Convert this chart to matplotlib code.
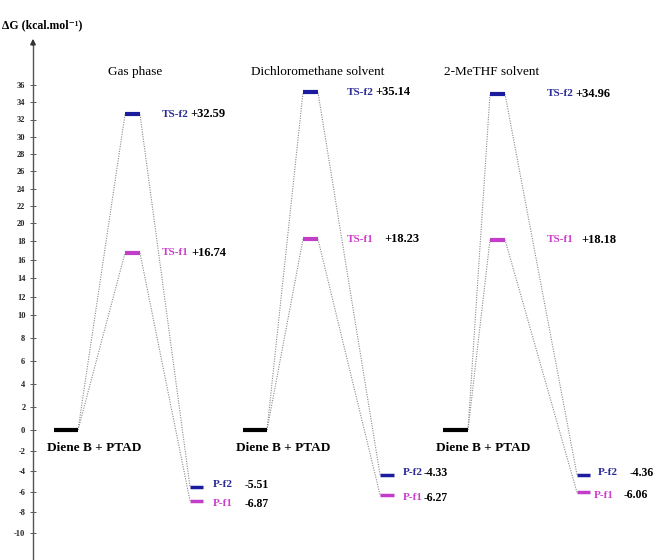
import numpy as np
import matplotlib
matplotlib.use("Agg")
import matplotlib.pyplot as plt

# energies (kcal/mol) as printed on the diagram
phases = ["Gas phase", "Dichloromethane solvent", "2-MeTHF solvent"]
reactant = [0.0, 0.0, 0.0]
ts_f2 = [32.59, 35.14, 34.96]
ts_f1 = [16.74, 18.23, 18.18]
p_f2 = [-5.51, -4.33, -4.36]
p_f1 = [-6.87, -6.27, -6.06]
y_ticks = list(range(-10, 37, 2))

# horizontal layout of each panel, in pixels
react_x = [(54, 78), (243, 267), (443, 468)]
ts_x = [(125, 140), (303, 318), (490, 505)]
prod_x = [(190, 203), (380, 394), (577, 590)]
ts_name_x = [162, 347, 547]
ts2_val_x = [190, 375, 575]
ts1_val_x = [191, 384, 581]
p2_name_x = [213, 403, 598]
p2_val_x = [245, 424, 630]
p1_name_x = [213, 403, 594]
p1_val_x = [245, 424, 624]
title_x = [135, 318, 492]

BLUE = "#1c1c9e"
MAGENTA = "#c23ec8"
BLUE_TXT = "#2b2b95"
MAG_TXT = "#cc3fcc"
FONT = ["Liberation Serif", "DejaVu Serif"]

plt.rcParams["font.family"] = FONT
plt.rcParams["axes.unicode_minus"] = False

# the printed axis is not evenly spaced: follow its tick positions (pixels from top)
knot_val = np.array([-14, -10, 0, 10, 20, 36, 46], dtype=float)
knot_pix = np.array([574, 533, 430, 315, 223, 85, -1], dtype=float)


def forward(v):
    return -np.interp(v, knot_val, knot_pix)


def inverse(u):
    return np.interp(u, -knot_pix, knot_val)


def at_pixel(y):
    return float(inverse(-y))


fig = plt.figure(figsize=(6.57, 5.6), dpi=100)
ax = fig.add_axes([33 / 657, 0, 1 - 33 / 657, 1])
ax.set_yscale("function", functions=(forward, inverse))
ax.set_xlim(33, 657)
ax.set_ylim(at_pixel(560), at_pixel(0))

for side in ["top", "right", "bottom"]:
    ax.spines[side].set_visible(False)
ax.spines["left"].set_bounds(at_pixel(560), at_pixel(44))
ax.spines["left"].set_color("#555555")
ax.spines["left"].set_linewidth(1.0)
ax.annotate("", xy=(33, at_pixel(36)), xytext=(33, at_pixel(48)),
            arrowprops=dict(arrowstyle="-|>", color="#333333", lw=1.0, mutation_scale=8),
            annotation_clip=False)
ax.set_xticks([])
ax.set_yticks(y_ticks)
ax.set_yticklabels([str(t) for t in y_ticks], fontsize=6, fontweight="bold")
ax.tick_params(axis="y", direction="inout", length=5, width=0.6, pad=3, colors="#444444")
for lbl in ax.get_yticklabels():
    lbl.set_color("#222222")

fig.text(2 / 657, 1 - 25 / 560, "ΔG (kcal.mol⁻¹)", fontsize=8.5, fontweight="bold",
         va="center", ha="left")

dots = dict(color="#8a8a8a", ls=(0, (1, 1.2)), lw=0.8)
for i in range(3):
    rx0, rx1 = react_x[i]
    tx0, tx1 = ts_x[i]
    px0, px1 = prod_x[i]
    # connecting dotted paths
    ax.plot([rx1, tx0], [reactant[i], ts_f2[i]], **dots)
    ax.plot([rx1, tx0], [reactant[i], ts_f1[i]], **dots)
    ax.plot([tx1, px0], [ts_f2[i], p_f2[i]], **dots)
    ax.plot([tx1, px0], [ts_f1[i], p_f1[i]], **dots)
    # energy levels
    ax.plot([rx0, rx1], [reactant[i]] * 2, color="black", lw=3, solid_capstyle="butt")
    ax.plot([tx0, tx1], [ts_f2[i]] * 2, color=BLUE, lw=3, solid_capstyle="butt")
    ax.plot([tx0, tx1], [ts_f1[i]] * 2, color=MAGENTA, lw=3, solid_capstyle="butt")
    ax.plot([px0, px1], [p_f2[i]] * 2, color=BLUE, lw=2.5, solid_capstyle="butt")
    ax.plot([px0, px1], [p_f1[i]] * 2, color=MAGENTA, lw=2.5, solid_capstyle="butt")

    # labels
    ax.text(ts_name_x[i], ts_f2[i], "TS-f2", color=BLUE_TXT, fontsize=8,
            fontweight="bold", va="center")
    ax.text(ts2_val_x[i], ts_f2[i], f"+{ts_f2[i]:.2f}", fontsize=9, fontweight="bold", va="center")
    ax.text(ts_name_x[i], ts_f1[i], "TS-f1", color=MAG_TXT, fontsize=8,
            fontweight="bold", va="center")
    ax.text(ts1_val_x[i], ts_f1[i], f"+{ts_f1[i]:.2f}", fontsize=9, fontweight="bold", va="center")
    ax.annotate("Diene B + PTAD", xy=(rx0 - 7, reactant[i]), xytext=(0, -18),
                textcoords="offset pixels", fontsize=9.5, fontweight="bold",
                va="center", ha="left")
    ax.annotate("P-f2", xy=(p2_name_x[i], p_f2[i]), xytext=(0, 2), textcoords="offset pixels",
                color=BLUE_TXT, fontsize=8, fontweight="bold", va="center")
    ax.annotate(f"{p_f2[i]:.2f}", xy=(p2_val_x[i], p_f2[i]), xytext=(0, 2),
                textcoords="offset pixels", fontsize=8.5, fontweight="bold", va="center")
    ax.annotate("P-f1", xy=(p1_name_x[i], p_f1[i]), xytext=(0, -3),
                textcoords="offset pixels", color=MAG_TXT, fontsize=8, fontweight="bold",
                va="center")
    ax.annotate(f"{p_f1[i]:.2f}", xy=(p1_val_x[i], p_f1[i]), xytext=(0, -3),
                textcoords="offset pixels", fontsize=8.5, fontweight="bold", va="center")
    fig.text(title_x[i] / 657, 1 - 72 / 560, phases[i], fontsize=9.5, ha="center", va="center")

fig.savefig("out.png", dpi=100)
